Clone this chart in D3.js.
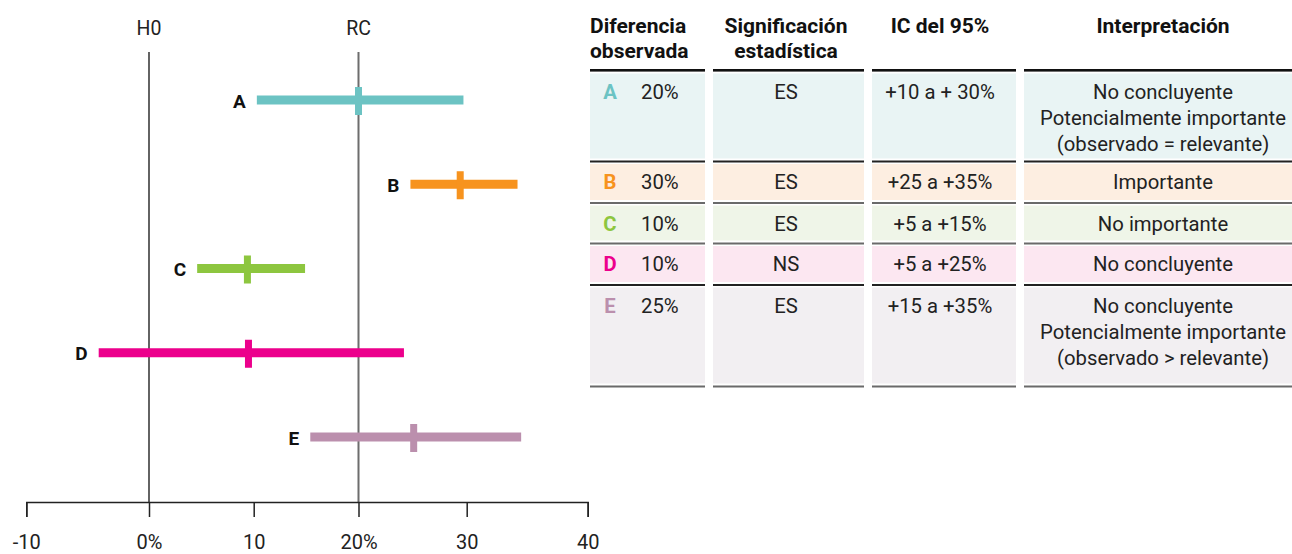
<!DOCTYPE html>
<html>
<head>
<meta charset="utf-8">
<script src="https://cdn.jsdelivr.net/npm/d3@7"></script>
<style>
  html, body { margin: 0; padding: 0; background: #ffffff; }
  svg { display: block; font-family: Roboto, "Noto Sans", sans-serif; }
</style>
</head>
<body>
<svg id="chart" width="1292" height="554"></svg>
<script>
// ---------- data ----------
const categories = ["A", "B", "C", "D", "E"];
const pointEst = [20, 29.4, 9.4, 9.5, 25.1];
const ciLow = [10.3, 24.8, 4.6, -4.1, 15.4];
const ciHigh = [29.7, 34.2, 14.9, 24.2, 34.5];

const tickValues = [-10, 0, 10, 20, 30, 40];
const tickLabels = ["-10", "0%", "10", "20%", "30", "40"];

const refLabels = ["H0", "RC"];
const refValues = [0, 20];

const headers = [["Diferencia", "observada"], ["Significación", "estadística"], ["IC del 95%"], ["Interpretación"]];
const observed = ["20%", "30%", "10%", "10%", "25%"];
const significance = ["ES", "ES", "ES", "NS", "ES"];
const ciText = ["+10 a + 30%", "+25 a +35%", "+5 a +15%", "+5 a +25%", "+15 a +35%"];
const interpretation = [
  ["No concluyente", "Potencialmente importante", "(observado = relevante)"],
  ["Importante"],
  ["No importante"],
  ["No concluyente"],
  ["No concluyente", "Potencialmente importante", "(observado > relevante)"]
];

// ---------- styles / layout ----------
const barColors = ["#6cc3c3", "#f7931e", "#8dc63f", "#ec008c", "#bb8fad"];
const rowBg = ["#e9f4f4", "#fdeee1", "#eff5e8", "#fce7f1", "#f2eff2"];
const sepColors = ["#222", "#6a6a6a", "#6a6a6a", "#222", "#6a6a6a"];
const textColor = "#222";

const svg = d3.select("#chart");

// x scale (piecewise, following the drawn axis)
const x = d3.scaleLinear()
  .domain(tickValues)
  .range([26.3, 149, 253.7, 358.5, 466.7, 587.7]);

const y = d3.scalePoint()
  .domain(categories)
  .range([100, 437]);

const axisY = 502;
const topLine = 52;

// reference lines
const refG = svg.append("g");
refValues.forEach((v, i) => {
  refG.append("line")
    .attr("x1", x(v)).attr("x2", x(v))
    .attr("y1", topLine).attr("y2", axisY)
    .attr("stroke", i === 0 ? "#222" : "#6d6d6d")
    .attr("stroke-width", i === 0 ? 1.4 : 2);
  refG.append("text")
    .attr("x", x(v)).attr("y", 34.5)
    .attr("text-anchor", "middle")
    .attr("font-size", 19.5)
    .attr("fill", textColor)
    .text(refLabels[i]);
});

// axis
const axis = d3.axisBottom(x)
  .tickValues(tickValues)
  .tickFormat((d, i) => tickLabels[i])
  .tickSize(15)
  .tickPadding(18);
const axG = svg.append("g")
  .attr("transform", `translate(0,${axisY})`)
  .call(axis);
axG.select(".domain").attr("stroke", "#222").attr("stroke-width", 1.5);
axG.selectAll(".tick line").attr("stroke", "#222").attr("stroke-width", 1.5);
axG.selectAll(".tick text")
  .attr("font-size", 20)
  .attr("font-family", "Roboto, 'Noto Sans', sans-serif")
  .attr("fill", textColor);

// interval bars
const rows = categories.map((c, i) => ({ c, i, lo: ciLow[i], hi: ciHigh[i], p: pointEst[i] }));
const barG = svg.append("g");
const barH = 9, crossW = 7, crossH = 28;
barG.selectAll("rect.bar").data(rows).join("rect")
  .attr("class", "bar")
  .attr("x", d => x(d.lo))
  .attr("width", d => x(d.hi) - x(d.lo))
  .attr("y", d => y(d.c) - barH / 2)
  .attr("height", barH)
  .attr("fill", d => barColors[d.i]);
barG.selectAll("rect.cross").data(rows).join("rect")
  .attr("class", "cross")
  .attr("x", d => x(d.p) - crossW / 2)
  .attr("width", crossW)
  .attr("y", d => y(d.c) - crossH / 2 + 1)
  .attr("height", crossH)
  .attr("fill", d => barColors[d.i]);
barG.selectAll("text.lab").data(rows).join("text")
  .attr("class", "lab")
  .attr("x", d => x(d.lo) - 11)
  .attr("y", d => y(d.c) + 7.5)
  .attr("text-anchor", "end")
  .attr("font-size", 19)
  .attr("font-weight", "bold")
  .attr("fill", "#111")
  .text(d => d.c);

// ---------- table ----------
const cols = [
  { x0: 590, x1: 705 },
  { x0: 713, x1: 864 },
  { x0: 872, x1: 1016 },
  { x0: 1024, x1: 1302 }
];
const colCenters = [null, 786, 940, 1163];
const rowHeights = [85, 36, 35, 36, 96];
const tableTop = 73.5;
const tG = svg.append("g");

// headers
headers.forEach((lines, ci) => {
  lines.forEach((t, li) => {
    tG.append("text")
      .attr("x", ci === 0 ? cols[0].x0 : colCenters[ci])
      .attr("y", 32.5 + li * 25)
      .attr("text-anchor", ci === 0 ? "start" : "middle")
      .attr("font-size", 21)
      .attr("font-weight", "bold")
      .attr("fill", "#111")
      .text(t);
  });
  tG.append("rect")
    .attr("x", cols[ci].x0).attr("width", cols[ci].x1 - cols[ci].x0)
    .attr("y", 69).attr("height", 2.6)
    .attr("fill", "#111");
});

let rowTop = tableTop;
categories.forEach((c, i) => {
  const h = rowHeights[i];
  cols.forEach((col, ci) => {
    tG.append("rect")
      .attr("x", col.x0).attr("width", col.x1 - col.x0)
      .attr("y", rowTop).attr("height", h)
      .attr("fill", rowBg[i]);
    tG.append("rect")
      .attr("x", col.x0).attr("width", col.x1 - col.x0)
      .attr("y", rowTop + h + 2).attr("height", 2)
      .attr("fill", sepColors[i]);
  });
  const base = rowTop + 25;
  tG.append("text")
    .attr("x", 610).attr("y", base)
    .attr("text-anchor", "middle")
    .attr("font-size", 20.3).attr("font-weight", "bold")
    .attr("fill", barColors[i])
    .text(c);
  tG.append("text")
    .attr("x", 641).attr("y", base)
    .attr("font-size", 20.3).attr("fill", textColor)
    .text(observed[i]);
  tG.append("text")
    .attr("x", colCenters[1]).attr("y", base)
    .attr("text-anchor", "middle")
    .attr("font-size", 20.3).attr("fill", textColor)
    .text(significance[i]);
  tG.append("text")
    .attr("x", colCenters[2]).attr("y", base)
    .attr("text-anchor", "middle")
    .attr("font-size", 20.3).attr("fill", textColor)
    .text(ciText[i]);
  interpretation[i].forEach((t, li) => {
    tG.append("text")
      .attr("x", colCenters[3]).attr("y", base + li * 26)
      .attr("text-anchor", "middle")
      .attr("font-size", 20.3).attr("fill", textColor)
      .text(t);
  });
  rowTop += h + 5.5;
});
</script>
</body>
</html>
